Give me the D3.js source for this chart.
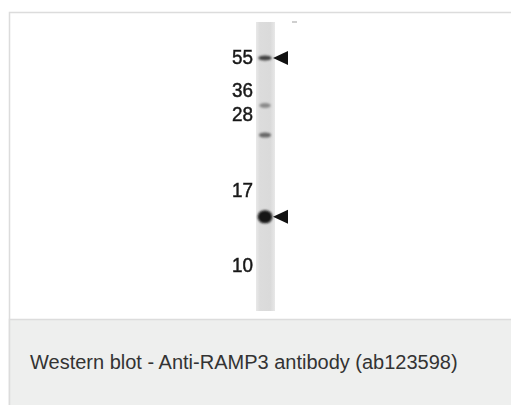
<!DOCTYPE html>
<html>
<head>
<meta charset="utf-8">
<script src="https://cdn.jsdelivr.net/npm/d3@7"></script>
<style>
  html, body { margin: 0; padding: 0; background: #fff; }
  svg { display: block; }
</style>
</head>
<body>
<div id="chart"></div>
<script>
// Molecular weight markers (kDa) printed left of the lane
const markerLabels = ["55", "36", "28", "17", "10"];
const markerValues = [55, 36, 28, 17, 10];

// Bands seen in the lane (kDa) and how dark they are (0..1)
const bandMW        = [55, 30.5, 24.8, 14.4];
const bandIntensity = [0.75, 0.38, 0.55, 0.97];

// Bands marked with an arrowhead
const arrowMW = [55, 14.4];

const caption = "Western blot - Anti-RAMP3 antibody (ab123598)";

const W = 511, H = 405;

const svg = d3.select("#chart").append("svg")
    .attr("width", W).attr("height", H);

const defs = svg.append("defs");
defs.append("filter").attr("id", "blur")
    .attr("x", "-50%").attr("y", "-100%").attr("width", "200%").attr("height", "300%")
    .append("feGaussianBlur").attr("stdDeviation", 1.3);
defs.append("filter").attr("id", "soft")
    .append("feGaussianBlur").attr("stdDeviation", 0.35);

const laneGrad = defs.append("linearGradient").attr("id", "lane")
    .attr("x1", "0").attr("x2", "1").attr("y1", "0").attr("y2", "0");
laneGrad.append("stop").attr("offset", "0%").attr("stop-color", "#e9e9e9");
laneGrad.append("stop").attr("offset", "20%").attr("stop-color", "#dcdcdc");
laneGrad.append("stop").attr("offset", "75%").attr("stop-color", "#dadada");
laneGrad.append("stop").attr("offset", "100%").attr("stop-color", "#e8e8e8");

// Card frame: white image area on top, grey caption strip below
svg.append("rect")
    .attr("x", 9.5).attr("y", 12.5).attr("width", W).attr("height", H)
    .attr("fill", "#fff").attr("stroke", "#dcdcdc").attr("stroke-width", 1.5);
svg.append("rect")
    .attr("x", 9.5).attr("y", 319.5).attr("width", W).attr("height", H)
    .attr("fill", "#eeefee").attr("stroke", "#dcdcdc").attr("stroke-width", 1.5);

svg.append("text")
    .attr("x", 30).attr("y", 369)
    .attr("fill", "#333")
    .style("font-family", "'Liberation Sans', Arial, sans-serif")
    .style("font-size", "20px")
    .text(caption);

// y position of a molecular weight: piecewise between the printed markers
const y = d3.scaleLinear()
    .domain(markerValues)
    .range([56, 89, 113, 189, 264]);

const laneX = 256, laneW = 19, laneTop = 22, laneBottom = 311;
const laneMid = laneX + laneW / 2 - 0.5;

const blot = svg.append("g");

blot.append("rect")
    .attr("x", laneX).attr("y", laneTop)
    .attr("width", laneW).attr("height", laneBottom - laneTop)
    .attr("fill", "url(#lane)");

// Bands
const shade = d3.scaleLinear().domain([0, 1]).range(["#d8d8d8", "#0c0c0c"]);
blot.selectAll(".band").data(bandMW).enter()
    .append("ellipse").attr("class", "band")
    .attr("cx", laneMid)
    .attr("cy", d => y(d) + (d === 55 ? 2 : 0))
    .attr("rx", (d, i) => 4.5 + bandIntensity[i] * 3)
    .attr("ry", (d, i) => bandIntensity[i] > 0.9 ? 6.5 : 2.5)
    .attr("fill", (d, i) => shade(bandIntensity[i]))
    .attr("filter", "url(#blur)");

// Arrowheads pointing at the bands
blot.selectAll(".arrow").data(arrowMW).enter()
    .append("path").attr("class", "arrow")
    .attr("d", d => {
        const cy = y(d) + (d === 55 ? 2 : 0);
        return `M273,${cy} L288,${cy - 7} L288,${cy + 7} Z`;
    })
    .attr("fill", "#111");

// Marker labels (slightly condensed, as in the scanned blot)
blot.selectAll(".mw").data(markerValues).enter()
    .append("text").attr("class", "mw")
    .attr("transform", d => `translate(253,${y(d)}) scale(0.9,1)`)
    .attr("dy", "0.36em")
    .attr("text-anchor", "end")
    .attr("fill", "#1a1a1a")
    .attr("stroke", "#1a1a1a").attr("stroke-width", 0.5)
    .attr("filter", "url(#soft)")
    .style("font-family", "'Liberation Sans', Arial, sans-serif")
    .style("font-size", "21px")
    .text((d, i) => markerLabels[i]);

// faint speck at the top right of the lane
blot.append("rect")
    .attr("x", 292).attr("y", 21).attr("width", 5).attr("height", 2)
    .attr("fill", "#cfcfcf");
</script>
</body>
</html>
